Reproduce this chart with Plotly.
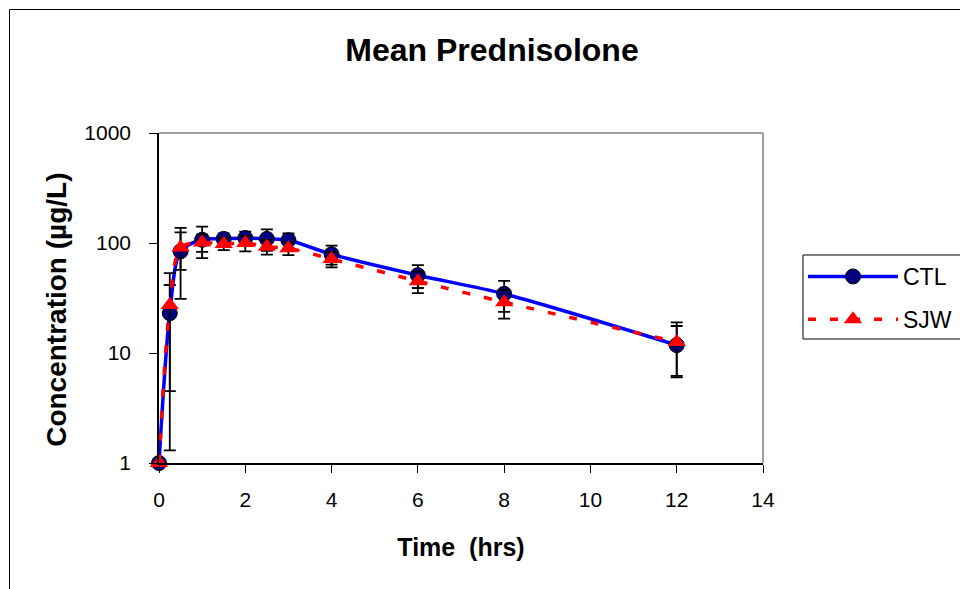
import plotly.graph_objects as go

# ---- data ----
times = [0, 0.25, 0.5, 1, 1.5, 2, 2.5, 3, 4, 6, 8, 12]
ctl_mean = [1, 23, 84, 107, 109, 111, 109, 106, 79, 51, 34.5, 11.8]
ctl_sd = [0, 18.5, 53, 34, 13, 16, 24, 16, 15.5, 12, 10.8, 5.8]
sjw_mean = [1, 27.3, 91, 101, 98, 100, 92.5, 89.5, 71.5, 45, 29, 12.6]
sjw_sd = [0, 26, 34, 18, 12, 16, 14, 12, 11.5, 10, 8.5, 6.4]
x_ticks = [0, 2, 4, 6, 8, 10, 12, 14]
y_ticks = [1, 10, 100, 1000]
y_ticklabels = ["1", "10", "100", "1000"]

FONT = "Liberation Sans, Arial, sans-serif"

fig = go.Figure()
fig.add_trace(go.Scatter(
    x=times, y=ctl_mean, name="CTL", mode="lines+markers",
    line=dict(color="#0000FF", width=3.5, shape="spline", smoothing=0.8),
    marker=dict(symbol="circle", size=15, color="#000080",
                line=dict(color="#000000", width=1)),
    error_y=dict(type="data", array=ctl_sd, symmetric=True,
                 color="black", thickness=1.8, width=6),
    cliponaxis=False, legendgroup="a",
))
fig.add_trace(go.Scatter(
    x=times, y=sjw_mean, name="SJW", mode="lines+markers",
    line=dict(color="#FF0000", width=3.5, dash="8px,14px", shape="spline", smoothing=0.8),
    marker=dict(symbol="triangle-up", size=16, color="#FF0000"),
    error_y=dict(type="data", array=sjw_sd, symmetric=True,
                 color="black", thickness=1.8, width=6),
    cliponaxis=False, legendgroup="b",
))

# body margin is removed in the page, so the canvas sits at (0, 0)
W, H = 960, 589
PL, PR, PT, PB = 159, 763, 133, 463  # plot area in page pixels
L, T = PL, PT
R = W - PR
B = H - PB
pw = PR - PL
ph = PB - PT

def px2paper_x(px):
    return (px - PL) / pw

def px2paper_y(py):
    return (PB - py) / ph

shapes = [
    # outer chart border (extends past the right/bottom edges)
    dict(type="rect", xref="paper", yref="paper",
         x0=px2paper_x(9.5), x1=px2paper_x(975), y0=px2paper_y(605), y1=px2paper_y(9.5),
         line=dict(color="#000000", width=1), layer="below"),
    # grey plot-area border top and right
    dict(type="line", xref="paper", yref="paper", x0=0, x1=1, y0=1, y1=1,
         line=dict(color="#808080", width=1.5), layer="below"),
    dict(type="line", xref="paper", yref="paper", x0=1, x1=1, y0=0, y1=1,
         line=dict(color="#808080", width=1.5), layer="below"),
    # legend frame (runs past the right edge like the reference)
    dict(type="rect", xref="paper", yref="paper",
         x0=px2paper_x(803), x1=px2paper_x(990), y0=px2paper_y(339), y1=px2paper_y(255),
         line=dict(color="#000000", width=1), fillcolor="white", layer="below"),
]

fig.update_layout(
    width=W, height=H,
    margin=dict(l=L, r=R, t=T, b=B, pad=0, autoexpand=False),
    paper_bgcolor="white", plot_bgcolor="white",
    font=dict(family=FONT, color="black", size=21),
    title=dict(text="<b>Mean Prednisolone</b>", x=492 / W, xref="container",
               xanchor="center", y=1 - 50 / H, yref="container", yanchor="middle",
               font=dict(size=32, family=FONT, color="black")),
    xaxis=dict(range=[0, 14], tickvals=x_ticks, ticks="outside", ticklen=8,
               tickwidth=1, tickcolor="black", showline=True, linecolor="black",
               linewidth=1.5, showgrid=False, zeroline=False,
               tickfont=dict(size=21), ticklabelstandoff=9,
               title=dict(text="<b>Time  (hrs)</b>", font=dict(size=25), standoff=29)),
    yaxis=dict(type="log", range=[0, 3], tickvals=y_ticks, ticktext=y_ticklabels,
               ticks="outside", ticklen=8, tickwidth=1, tickcolor="black",
               showline=True, linecolor="black", linewidth=1.5, showgrid=False,
               zeroline=False, tickfont=dict(size=21), ticklabelstandoff=14,
               title=dict(text="<b>Concentration (µg/L)</b>&nbsp;&nbsp;&nbsp;",
                          font=dict(size=28), standoff=10)),
    legend=dict(x=px2paper_x(803), y=px2paper_y(255), xanchor="left", yanchor="top",
                borderwidth=0, bgcolor="rgba(0,0,0,0)",
                font=dict(size=23, family=FONT), tracegroupgap=10,
                itemwidth=90),
    shapes=shapes,
    showlegend=True,
)

fig.write_html(
    "out.html",
    config={"displayModeBar": False},
    post_script="document.body.style.margin='0';document.body.style.overflow='hidden';",
)
